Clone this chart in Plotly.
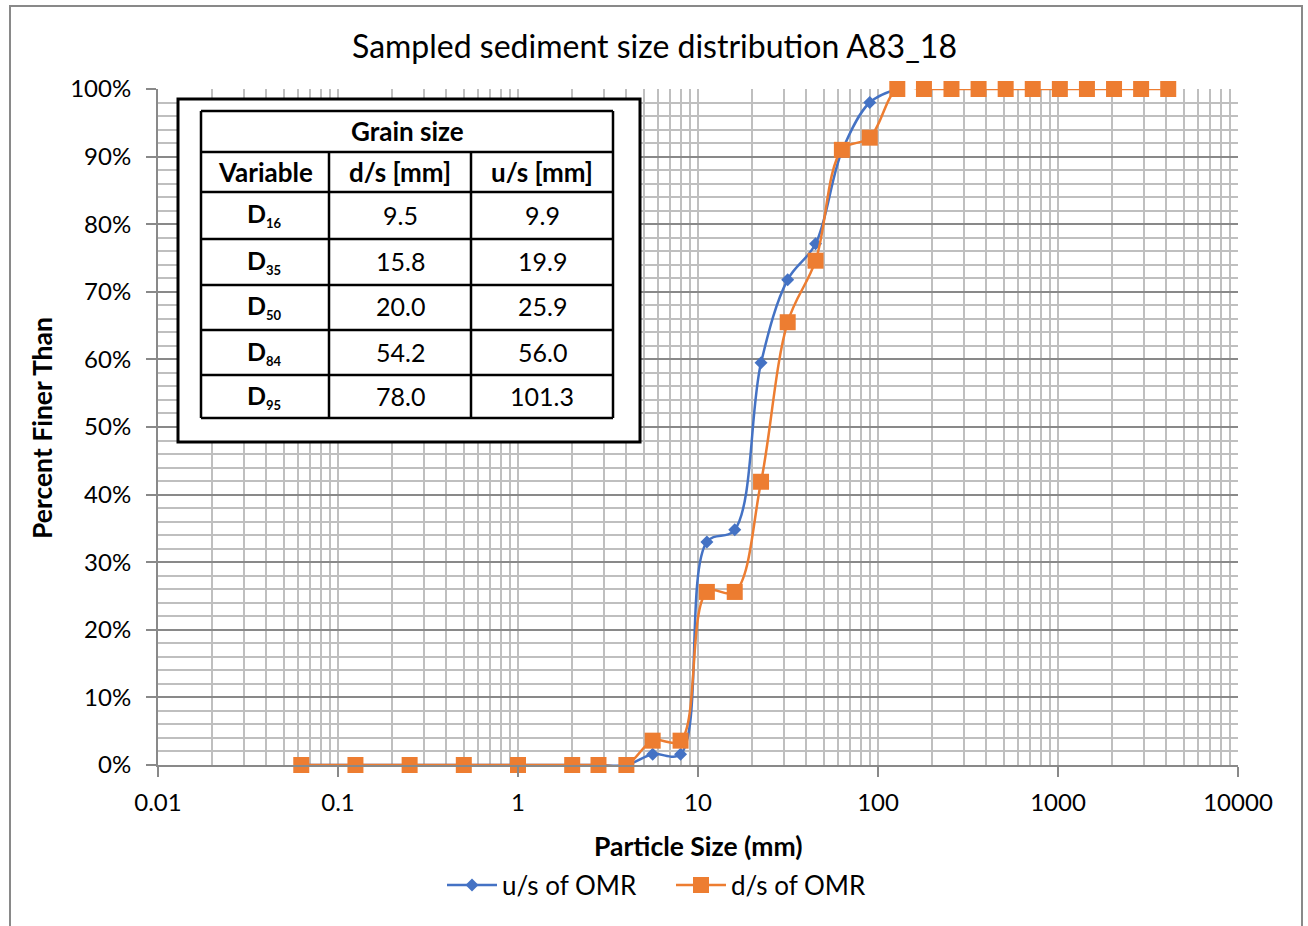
import plotly.graph_objects as go

# ---------------- data ----------------
sizes_us = [0.0625, 0.125, 0.25, 0.5, 1, 2, 2.8, 4, 5.6, 8, 11.2, 16, 22.4, 31.5, 45, 63, 90, 128]
finer_us = [0, 0, 0, 0, 0, 0, 0, 0, 1.6, 1.6, 33.0, 34.8, 59.5, 71.8, 77.1, 90.8, 98.0, 100]

sizes_ds = [0.0625, 0.125, 0.25, 0.5, 1, 2, 2.8, 4, 5.6, 8, 11.2, 16, 22.4, 31.5, 45, 63, 90,
            128, 180, 256, 362, 512, 724, 1024, 1448, 2048, 2896, 4096]
finer_ds = [0, 0, 0, 0, 0, 0, 0, 0, 3.6, 3.6, 25.6, 25.6, 41.9, 65.5, 74.6, 91.0, 92.8,
            100, 100, 100, 100, 100, 100, 100, 100, 100, 100, 100]

x_tickvals = [0.01, 0.1, 1, 10, 100, 1000, 10000]
x_ticktext = ["0.01", "0.1", "1", "10", "100", "1000", "10000"]
y_tickvals = [0, 10, 20, 30, 40, 50, 60, 70, 80, 90, 100]
y_ticktext = ["0%", "10%", "20%", "30%", "40%", "50%", "60%", "70%", "80%", "90%", "100%"]

table_title = "Grain size"
table_header = ["Variable", "d/s [mm]", "u/s [mm]"]
table_subs = ["16", "35", "50", "84", "95"]
table_ds = ["9.5", "15.8", "20.0", "54.2", "78.0"]
table_us = ["9.9", "19.9", "25.9", "56.0", "101.3"]

# ---------------- layout helpers ----------------
W, H = 1308, 926
L, R, T, B = 158, 1238, 89, 765


def px_x(p):
    return (p - L) / (R - L)


def px_y(p):
    return (B - p) / (B - T)


FONT = "Lato"
BLUE = "#4472C4"
ORANGE = "#ED7D31"
LIGHT = "#BFBFBF"
DARK = "#898989"

fig = go.Figure()
fig.add_trace(go.Scatter(
    x=sizes_us, y=finer_us, name="u/s of OMR", mode="lines+markers",
    line=dict(color=BLUE, width=2.5, shape="spline"),
    marker=dict(symbol="diamond", size=10, color=BLUE),
    cliponaxis=False,
))
fig.add_trace(go.Scatter(
    x=sizes_ds, y=finer_ds, name="d/s of OMR", mode="lines+markers",
    line=dict(color=ORANGE, width=2.5, shape="spline"),
    marker=dict(symbol="square", size=16, color=ORANGE),
    cliponaxis=False,
))

minor_x = [k * 10 ** d for d in range(-2, 4) for k in range(2, 10)]

fig.update_xaxes(
    type="log", range=[-2, 4],
    tickmode="array", tickvals=x_tickvals, ticktext=x_ticktext,
    showgrid=True, gridcolor=LIGHT, gridwidth=2,
    minor=dict(tickmode="array", tickvals=minor_x, showgrid=True, gridcolor=LIGHT, gridwidth=2, ticks=""),
    showline=True, linecolor=DARK, linewidth=2,
    ticks="outside", ticklen=10, tickwidth=2, tickcolor=DARK,
    tickfont=dict(family=FONT, size=24, color="#000000"),
    ticklabelstandoff=5,
    zeroline=False,
)
fig.update_yaxes(
    range=[0, 100],
    tickmode="array", tickvals=y_tickvals, ticktext=y_ticktext,
    showgrid=True, gridcolor=DARK, gridwidth=2,
    minor=dict(dtick=2, showgrid=True, gridcolor=LIGHT, gridwidth=2, ticks=""),
    showline=True, linecolor=DARK, linewidth=2,
    ticks="outside", ticklen=10, tickwidth=2, tickcolor=DARK,
    tickfont=dict(family=FONT, size=24, color="#000000"),
    ticklabelstandoff=10,
    zeroline=False,
)

shapes = []
annotations = []


def add_text(text, xpx, ypx, size, angle=0):
    annotations.append(dict(text=text, xref="paper", yref="paper",
                            x=px_x(xpx), y=px_y(ypx), xanchor="center", yanchor="middle",
                            showarrow=False, textangle=angle,
                            font=dict(family=FONT, size=size, color="#000000")))


# chart border
shapes.append(dict(type="rect", xref="paper", yref="paper",
                   x0=px_x(10), x1=px_x(1302), y0=px_y(935), y1=px_y(6),
                   line=dict(color=DARK, width=2), fillcolor="rgba(0,0,0,0)", layer="below"))

# table outer box
shapes.append(dict(type="rect", xref="paper", yref="paper",
                   x0=px_x(178), x1=px_x(640), y0=px_y(442), y1=px_y(99),
                   line=dict(color="#000000", width=3), fillcolor="#FFFFFF", layer="above"))
# table inner grid
tx0, tx1 = 201, 613
row_lines = [111, 152, 192, 239, 285, 330, 375, 418]
col_lines = [329, 471]
for yy in row_lines:
    shapes.append(dict(type="line", xref="paper", yref="paper",
                       x0=px_x(tx0), x1=px_x(tx1), y0=px_y(yy), y1=px_y(yy),
                       line=dict(color="#000000", width=2.5)))
for xx in [tx0, tx1]:
    shapes.append(dict(type="line", xref="paper", yref="paper",
                       x0=px_x(xx), x1=px_x(xx), y0=px_y(111), y1=px_y(418),
                       line=dict(color="#000000", width=2.5)))
for xx in col_lines:
    shapes.append(dict(type="line", xref="paper", yref="paper",
                       x0=px_x(xx), x1=px_x(xx), y0=px_y(152), y1=px_y(418),
                       line=dict(color="#000000", width=2.5)))

col_centers = [265, 400, 542]
add_text("<b>" + table_title + "</b>", 407, 131, 26)
for c, h in zip(col_centers, table_header):
    add_text("<b>" + h + "</b>", c, 172, 26)
row_centers = [215, 261, 306, 352, 396]
for rc, s, d, u in zip(row_centers, table_subs, table_ds, table_us):
    add_text("<b>D<sub><span style='font-size:13px'>" + s + "</span></sub></b>", col_centers[0] - 1, rc, 25)
    add_text(d, col_centers[1], rc, 25)
    add_text(u, col_centers[2], rc, 25)

# title and axis titles
add_text("Sampled sediment size distribution A83_18", 654, 46, 32)
add_text("<b>Particle Size (mm)</b>", 698, 846, 26.5)
add_text("<b>Percent Finer Than</b>", 42, 428, 26.5, angle=-90)

fig.update_layout(
    width=W, height=H,
    margin=dict(l=L, r=W - R, t=T, b=H - B, pad=0),
    paper_bgcolor="#FFFFFF", plot_bgcolor="#FFFFFF",
    shapes=shapes, annotations=annotations,
    showlegend=True,
    legend=dict(orientation="h", x=px_x(442), y=px_y(885), xanchor="left", yanchor="middle",
                font=dict(family=FONT, size=26, color="#000000"), itemwidth=50,
                entrywidth=164, entrywidthmode="pixels",
                bgcolor="rgba(0,0,0,0)"),
)

fig.write_html("out.html")
